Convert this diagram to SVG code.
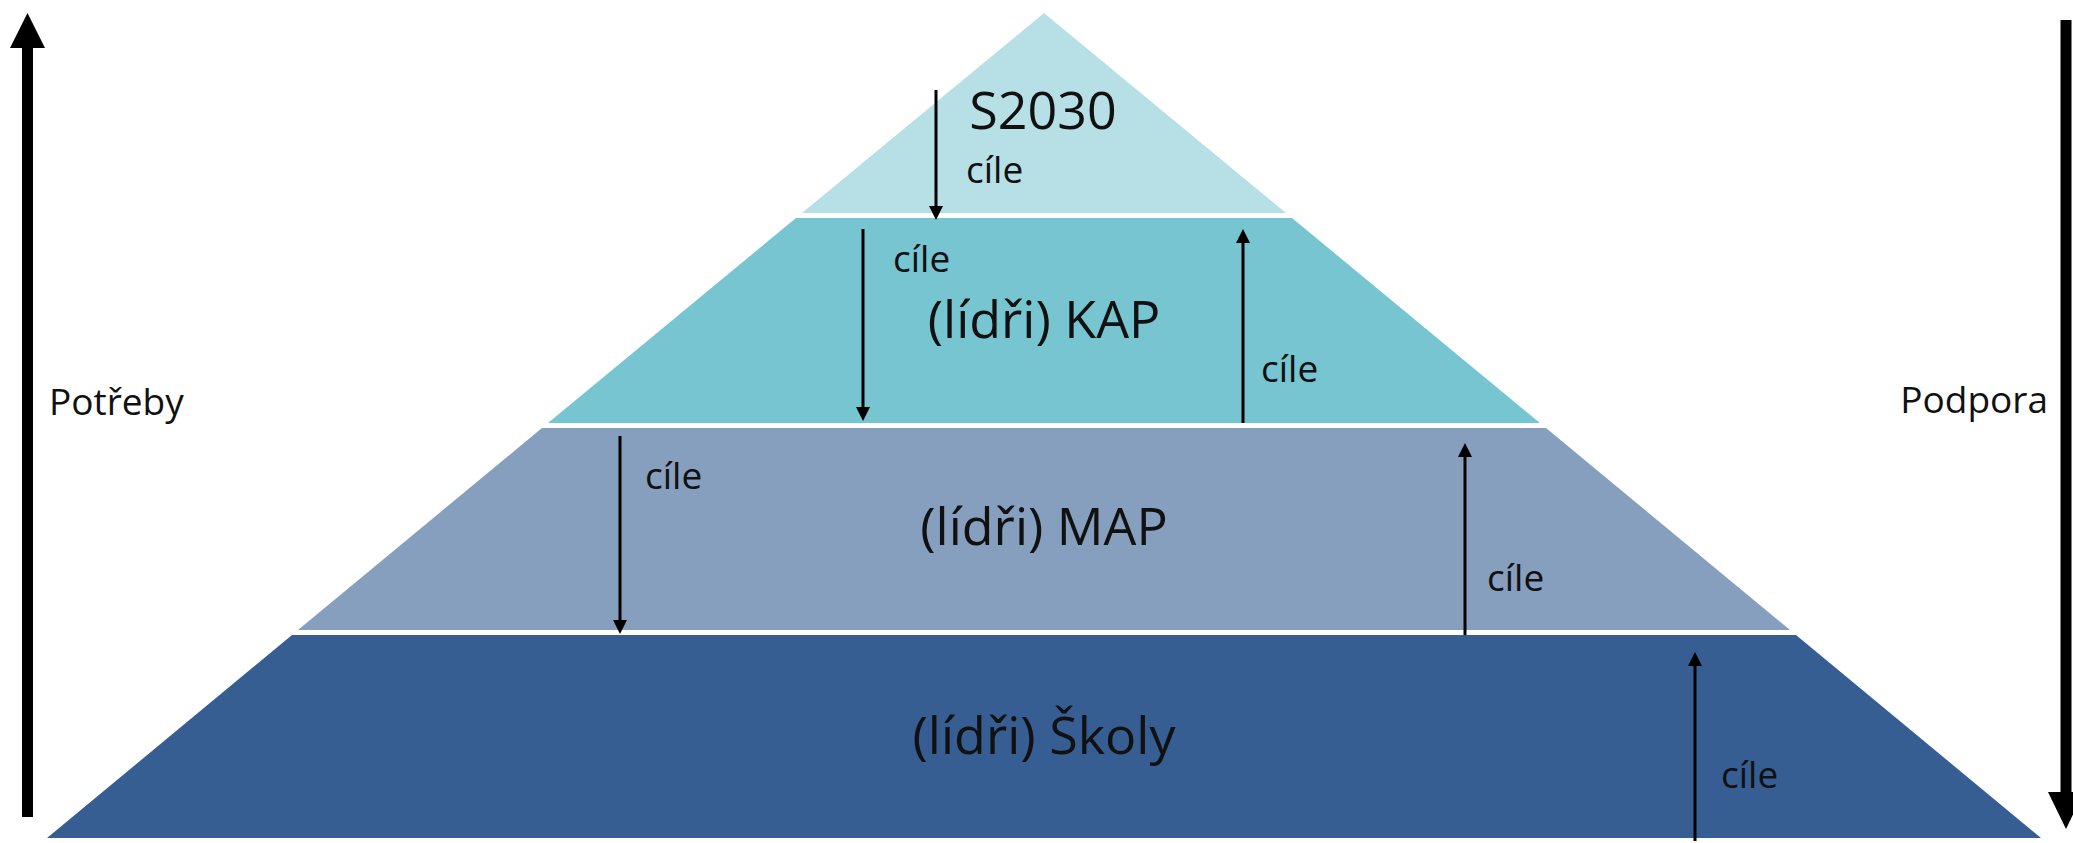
<svg xmlns="http://www.w3.org/2000/svg" width="2073" height="843" viewBox="0 0 2073 843">
<defs>
<style>
.big{font-family:"Open Sans","DejaVu Sans",sans-serif;font-size:52px;fill:#111;text-anchor:middle}
.sm{font-family:"Open Sans","DejaVu Sans",sans-serif;font-size:37px;fill:#111}
.ar{stroke:#000;stroke-width:3;fill:none;marker-end:url(#ah)}
.thick{stroke:#000;stroke-width:11;fill:none}
</style>
<marker id="ah" markerUnits="userSpaceOnUse" viewBox="0 0 14 14" markerWidth="14" markerHeight="14" refX="4" refY="7" orient="auto">
<path d="M0,0 L14,7 L0,14 z" fill="#000"/>
</marker>
</defs>
<rect width="2073" height="843" fill="#fff"/>
<g id="layer-s2030">
<polygon points="1044,13 1286,213 802,213" fill="#b6e0e6"/>
<text class="big" x="1043" y="129">S2030</text>
</g>
<g id="layer-kap">
<polygon points="796,218 1292,218 1540,423 548,423" fill="#77c5d1"/>
<text class="big" x="1044" y="338">(lídři) KAP</text>
</g>
<g id="layer-map">
<polygon points="542,428 1546,428 1790,630 298,630" fill="#869fbe"/>
<text class="big" x="1044" y="545">(lídři) MAP</text>
</g>
<g id="layer-skoly">
<polygon points="292,635 1796,635 2041,838 47,838" fill="#365e92"/>
<text class="big" x="1044" y="754">(lídři) Školy</text>
</g>
<g id="connectors">
<line class="ar" x1="936" y1="90" x2="936" y2="210"/>
<line class="ar" x1="863" y1="229" x2="863" y2="411"/>
<line class="ar" x1="1243" y1="423" x2="1243" y2="239"/>
<line class="ar" x1="620" y1="436" x2="620" y2="624"/>
<line class="ar" x1="1465" y1="635" x2="1465" y2="453"/>
<line class="ar" x1="1695" y1="841" x2="1695" y2="662"/>
<line class="thick" x1="27.5" y1="817" x2="27.5" y2="46"/>
<polygon points="27.5,13 45,48 10,48" fill="#000"/>
<line class="thick" x1="2066" y1="20" x2="2066" y2="794"/>
<polygon points="2066,829 2084,792 2048,792" fill="#000"/>
</g>
<g id="labels">
<text class="sm" x="966" y="183">cíle</text>
<text class="sm" x="893" y="272">cíle</text>
<text class="sm" x="1261" y="382">cíle</text>
<text class="sm" x="645" y="489">cíle</text>
<text class="sm" x="1487" y="591">cíle</text>
<text class="sm" x="1721" y="788">cíle</text>
<text class="sm" x="49" y="415">Potřeby</text>
<text class="sm" x="2048" y="413" text-anchor="end">Podpora</text>
</g>
</svg>
